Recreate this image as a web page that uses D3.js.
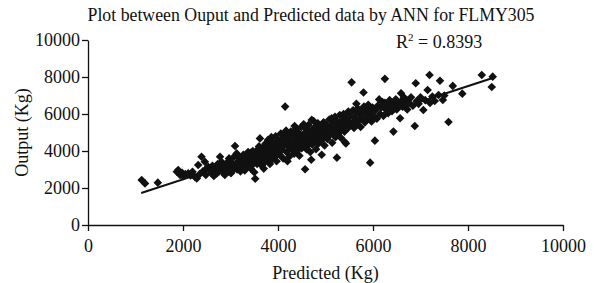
<!DOCTYPE html>
<html lang="en">
<head>
    <meta charset="UTF-8">
    <title>Ouput vs Predicted FLMY305</title>
    <script src="https://d3js.org/d3.v7.min.js"></script>
    <style>
        body { margin: 0; background: #fff; }
        svg { display: block; }
        svg text { font-family: "Liberation Serif", "Times New Roman", serif; }
    </style>
</head>
<body>
<svg id="chart" width="594" height="283"></svg>

<script>
    // predicted (x) / output (y) pairs
    const points = [
        [1130,2430],[1200,2250],[1470,2290],[1870,2880],[1900,2970],[1940,2700],[1980,2820],[2000,2650],
        [2050,2750],[2110,2790],[2160,2680],[2200,2880],[2250,2600],[2290,2520],[2320,3240],[2350,2750],
        [2390,3690],[2420,2900],[2460,3420],[2480,2700],[2500,3050],[2530,3150],
        [2570,2970],[2600,2800],[2620,3200],[2650,2650],[2680,3000],[2710,2790],[2730,3300],[2760,2900],
        [2780,3690],[2800,3100],[2810,3420],[2840,2850],[2860,3250],[2880,2700],[2900,3000],[2920,3150],
        [2940,3400],[2960,2900],[2970,3600],[2990,3510],[3000,3200],[3010,2800],
        [3030,3350],[3050,3050],[3060,2970],[3080,3700],[3095,4270],[3110,3250],[3130,3870],[3140,3000],
        [3160,3450],[3180,3150],[3200,3330],[3210,2900],[3230,3600],[3250,3250],[3270,3800],[3280,3050],
        [3300,3500],[3320,3350],[3340,3150],[3350,3700],[3370,3950],[3380,3400],[3400,3200],[3410,3600],
        [3430,3050],[3440,3800],[3460,3450],[3470,4000],[3480,3300],[3490,3650],[3500,2850],[3520,2500],
        [3300,2950],[3150,3700],[3420,3900],
        [3530,3550],[3550,3900],[3560,3300],[3580,4100],[3600,3700],[3610,3450],[3620,4680],[3640,3850],
        [3650,4050],[3660,3200],[3680,3600],[3700,4250],[3710,3900],[3720,3400],[3740,4400],[3750,3750],
        [3760,4000],[3780,3500],[3790,4600],[3800,4150],[3810,3850],[3830,3300],[3840,4300],[3850,3700],
        [3860,4750],[3870,4050],[3880,3550],[3900,4450],[3910,3950],[3920,4200],[3940,3700],[3950,4800],
        [3960,4100],[3970,3450],[3980,4350],[3990,3900],[4000,4600],[3700,3050],[3850,4550],[3600,4250],
        [4020,4200],[4030,3800],[4050,4450],[4060,4950],[4080,4050],[4100,4700],[4110,3600],[4130,4300],
        [4150,6400],[4150,4960],[4160,4500],[4170,5100],[4180,3950],[4200,4650],[4210,4250],[4230,4850],
        [4240,3700],[4250,4450],[4270,5050],[4280,4100],[4300,4600],[4310,4350],[4330,4900],[4340,3850],
        [4350,4200],[4370,4750],[4380,5200],[4390,4450],[4400,4000],[4420,4650],[4430,5000],[4440,4300],
        [4450,3750],[4460,4850],[4470,4550],[4490,5300],[4500,4150],[4540,5440],[4200,3450],[4350,5350],
        [4520,4700],[4530,4400],[4550,4950],[4570,3010],[4580,4600],[4600,5150],[4610,4250],[4630,4800],
        [4640,5400],[4650,4500],[4670,5000],[4680,3950],[4700,3530],[4710,5680],[4710,4700],[4720,4350],
        [4740,5200],[4750,5620],[4760,4900],[4780,4550],[4790,5300],[4800,4100],[4810,5000],[4830,4700],
        [4840,5500],[4850,4400],[4870,5100],[4880,4850],[4900,5350],[4910,4550],[4920,3800],[4930,5000],
        [4950,4750],[4960,5550],[4980,4300],[4990,5200],[5000,4900],[4600,4100],
        [5020,5400],[5040,4650],[5060,5100],[5080,5700],[5100,4900],[5120,5300],[5130,5770],[5140,4450],
        [5160,5500],[5180,5050],[5200,5850],[5210,4750],[5230,5250],[5240,3640],[5250,5600],[5270,4950],
        [5280,5400],[5300,5950],[5310,5150],[5330,4700],[5350,5650],[5370,5300],[5380,6000],[5400,5050],
        [5410,4470],[5420,5500],[5430,4410],[5440,5800],[5460,5200],[5480,6130],[5490,5600],[5500,5350],
        [5520,5900],[5550,7710],[5560,5500],[5580,6200],[5600,5250],[5620,5750],[5640,6050],[5660,5450],
        [5680,6300],[5700,5650],[5720,5950],[5740,5300],[5760,6150],[5780,5800],[5800,7160],[5810,6400],
        [5830,5550],[5850,6050],[5870,6250],[5880,5700],[5900,6500],[5920,5950],[5940,3370],[5950,6150],
        [5970,5600],[5990,6350],[6000,5900],[5650,6550],
        [6040,4560],[6050,6200],[6080,5750],[6100,6450],[6130,6790],[6150,6000],[6170,6350],[6200,6650],
        [6220,5900],[6250,7900],[6250,6600],[6270,6250],[6300,6500],[6320,6050],[6350,6750],[6370,6350],
        [6400,6150],[6420,6600],[6430,5050],[6450,6400],[6480,6800],[6500,6250],
        [6530,6550],[6570,5770],[6590,7120],[6600,6700],[6620,6400],[6650,6900],[6680,6500],[6700,6750],
        [6720,6250],[6760,6600],[6800,6900],[6840,6450],[6880,5350],[6900,7660],[6920,6700],[6960,6550],
        [7000,6900],[7060,6220],[7100,6750],[7190,8110],[7200,6600],[7250,6950],[7300,6700],[7380,7030],
        [7410,7800],[7470,6760],[7500,7000],[7590,5570],[7680,7520],[7880,7100],[8290,8110],[8520,8020],
        [8500,7460],[7150,7300]
    ];

    // linear trend line end points (predicted, output)
    const trendX = [1120, 8520];
    const trendY = [1730, 7945];

    const xTicks = [0, 2000, 4000, 6000, 8000, 10000];
    const yTicks = [0, 2000, 4000, 6000, 8000, 10000];

    const titleText = "Plot between Ouput and Predicted data by ANN for FLMY305";
    const xLabel = "Predicted (Kg)";
    const yLabel = "Output (Kg)";
    const rSquared = "0.8393";

    const margin = {top: 40, right: 31, bottom: 58, left: 88};
    const width = 594, height = 283;
    const ink = "#111";

    const svg = d3.select("#chart");

    const x = d3.scaleLinear().domain([0, 10000]).range([margin.left, width - margin.right]);
    const y = d3.scaleLinear().domain([0, 10000]).range([height - margin.bottom, margin.top]);

    // axes
    const xAxis = svg.append("g")
        .attr("transform", `translate(0,${height - margin.bottom})`)
        .call(d3.axisBottom(x).tickValues(xTicks).tickFormat(d3.format("d")).tickSize(6).tickSizeOuter(0));
    const yAxis = svg.append("g")
        .attr("transform", `translate(${margin.left},0)`)
        .call(d3.axisLeft(y).tickValues(yTicks).tickFormat(d3.format("d")).tickSize(6).tickSizeOuter(0));

    [xAxis, yAxis].forEach(g => {
        g.attr("font-family", null).attr("font-size", null);
        g.selectAll("path, line").attr("stroke", ink).attr("stroke-width", 1.3);
        g.selectAll("text").attr("fill", ink).style("font-size", "18px");
    });
    xAxis.selectAll("text").attr("y", 14);
    yAxis.selectAll("text").attr("x", -8);

    // points
    const diamond = "M0,-4.3L4.3,0L0,4.3L-4.3,0Z";
    svg.append("g").selectAll("path")
        .data(points)
        .join("path")
        .attr("d", diamond)
        .attr("transform", d => `translate(${x(d[0])},${y(d[1])})`)
        .attr("fill", ink);

    // trend line
    svg.append("line")
        .attr("x1", x(trendX[0])).attr("y1", y(trendY[0]))
        .attr("x2", x(trendX[1])).attr("y2", y(trendY[1]))
        .attr("stroke", ink).attr("stroke-width", 2);

    // title and labels
    svg.append("text")
        .attr("x", 311).attr("y", 21)
        .attr("text-anchor", "middle")
        .style("font-size", "17.8px").attr("fill", ink)
        .text(titleText);

    svg.append("text")
        .attr("x", (margin.left + width - margin.right) / 2).attr("y", 279)
        .attr("text-anchor", "middle")
        .style("font-size", "18px").attr("fill", ink)
        .text(xLabel);

    svg.append("text")
        .attr("transform", `translate(28,${(margin.top + height - margin.bottom) / 2}) rotate(-90)`)
        .attr("text-anchor", "middle")
        .style("font-size", "18px").attr("fill", ink)
        .text(yLabel);

    const r2 = svg.append("text")
        .attr("x", 396).attr("y", 48)
        .style("font-size", "18px").attr("fill", ink);
    r2.append("tspan").text("R");
    r2.append("tspan").style("font-size", "11px").attr("dy", -7).text("2");
    r2.append("tspan").attr("dy", 7).text(" = " + rSquared);
</script>
</body>
</html>
